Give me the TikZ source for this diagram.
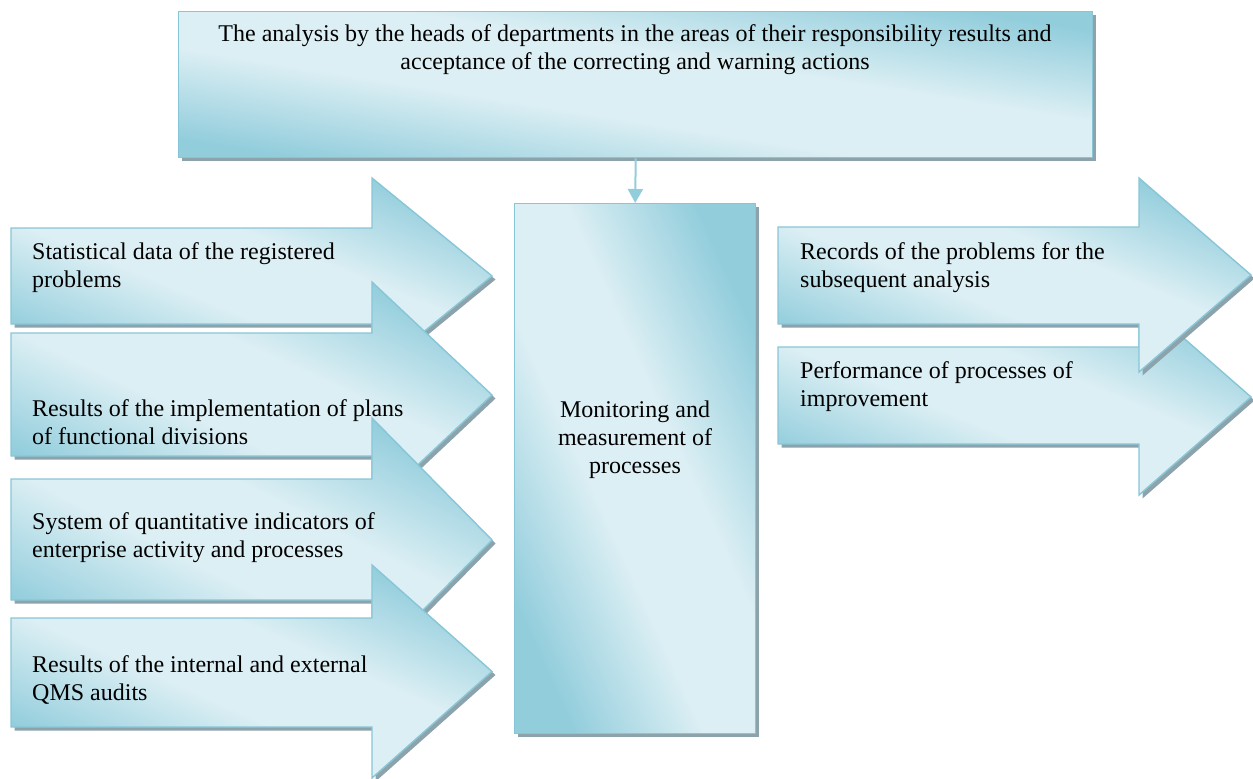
\documentclass[tikz,border=0pt]{standalone}
\usepackage{fontspec}
\setmainfont{Liberation Serif}
\usetikzlibrary{shadows,arrows.meta}
\definecolor{dk}{RGB}{146,205,220}
\definecolor{lt}{RGB}{220,239,244}
\definecolor{edgec}{RGB}{136,198,215}
\definecolor{shd}{RGB}{140,163,172}
\pgfdeclarehorizontalshading{aqua}{100bp}{color(0bp)=(dk); color(25bp)=(dk); color(43bp)=(lt); color(57bp)=(lt); color(75bp)=(dk); color(100bp)=(dk)}
\tikzset{
  blueshape/.style={draw=edgec, line width=1.4pt, line join=miter,
    shading=aqua, shading angle=#1,
    drop shadow={shadow xshift=3.5pt, shadow yshift=-3.5pt, opacity=1, fill=shd}},
  blueshape/.default=45,
  lbl/.style={font=\fontsize{24}{27.6}\selectfont, inner sep=0pt, align=left, anchor=base west},
  clbl/.style={lbl, align=center, anchor=base},
  link/.style={draw=dk, line width=2pt, -{Triangle[width=15pt,length=14pt]}}
}
% #1 x body left, #2 x body right, #3 x tip, #4 head top, #5 body top, #6 body bottom, #7 head bottom
\newcommand\flowarrow[7]{%
  \pgfmathsetmacro\arrang{atan((#3-#1)/(#7-#4))}%
  \path[blueshape=\arrang] (#1,#5) -- (#2,#5) -- (#2,#4) -- (#3,{(#4+#7)/2}) -- (#2,#7) -- (#2,#6) -- (#1,#6) -- cycle;}
\begin{document}
\begin{tikzpicture}[x=1pt,y=-1pt]
\useasboundingbox (0,0) rectangle (1253,779);

% top box
\node[blueshape=80.9, anchor=north west, inner sep=0pt, minimum width=914pt, minimum height=146pt] (top) at (178,11) {};
\node[clbl] (toptext) at (635,69) {The analysis by the heads of departments in the areas of their responsibility results and\\acceptance of the correcting and warning actions};

% centre box
\node[blueshape=24.5, anchor=north west, inner sep=0pt, minimum width=241pt, minimum height=530pt] (mon) at (514,203) {};
\node[clbl] (montext) at (635,473) {Monitoring and\\measurement of\\processes};

\draw[link] (top.south) -- (mon.north);

% left input arrows
\flowarrow{11}{372}{492}{178}{228}{324}{374}
\node[lbl] (in1) at (32,287) {Statistical data of the registered\\problems};
\flowarrow{11}{372}{492}{282}{333}{456}{508}
\node[lbl] (in2) at (32,444) {Results of the implementation of plans\\of functional divisions};
\flowarrow{11}{372}{492}{418}{479}{600}{662}
\node[lbl] (in3) at (32,557) {System of quantitative indicators of\\enterprise activity and processes};
\flowarrow{11}{372}{492}{565}{618}{727}{778}
\node[lbl] (in4) at (32,700) {Results of the internal and external\\QMS audits};

% right output arrows
\flowarrow{778}{1139}{1251}{299}{347}{444}{495}
\node[lbl] (out2) at (800,406) {Performance of processes of\\improvement};
\flowarrow{778}{1139}{1251}{178}{227}{324}{372}
\node[lbl] (out1) at (800,287) {Records of the problems for the\\subsequent analysis};
\end{tikzpicture}
\end{document}
